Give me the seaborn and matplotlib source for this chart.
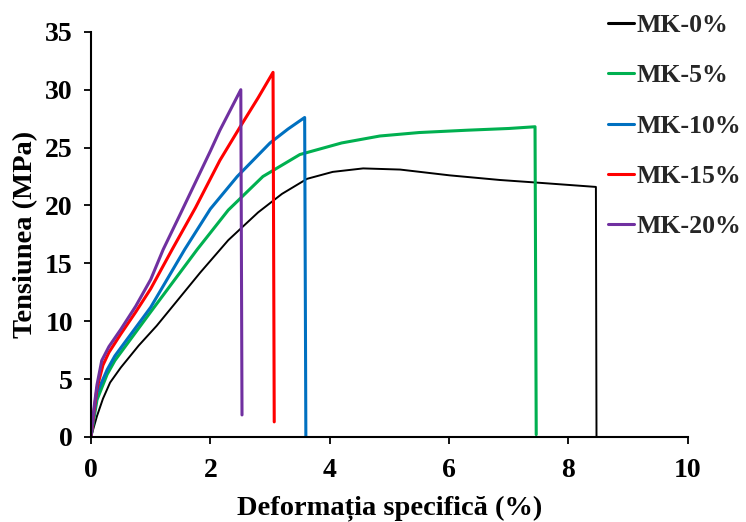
import matplotlib
matplotlib.use("Agg")
import matplotlib.pyplot as plt
import seaborn as sns
import pandas as pd

# Stress-strain curves for mortar with metakaolin (MK) replacement
labels = ["MK-0%", "MK-5%", "MK-10%", "MK-15%", "MK-20%"]
colors = ["#000000", "#00B050", "#0070C0", "#FF0000", "#7030A0"]

mk0_x = [0, 0.1, 0.2, 0.32, 0.5, 0.8, 1.1, 1.37, 1.83, 2.3, 2.8, 3.2, 3.62, 4.05, 4.56, 5.18, 6.01, 6.85, 7.4, 8.46, 8.47]
mk0_y = [0, 1.8, 3.3, 4.7, 6.0, 7.9, 9.6, 11.3, 14.2, 17.0, 19.4, 21.0, 22.3, 22.9, 23.2, 23.1, 22.6, 22.2, 22.0, 21.6, 0]

mk5_x = [0, 0.05, 0.1, 0.27, 0.4, 0.6, 1.0, 1.78, 2.3, 2.88, 3.5, 4.2, 4.84, 5.5, 6.3, 7.0, 7.44, 7.46]
mk5_y = [0, 1.6, 3.2, 5.4, 6.6, 8.0, 10.8, 16.2, 19.6, 22.5, 24.4, 25.4, 26.0, 26.3, 26.5, 26.65, 26.8, 0.2]

mk10_x = [0, 0.05, 0.1, 0.27, 0.4, 0.6, 1.0, 1.57, 2.0, 2.45, 3.0, 3.3, 3.58, 3.6]
mk10_y = [0, 2.0, 3.8, 5.8, 7.0, 8.4, 11.2, 16.2, 19.7, 22.5, 25.4, 26.6, 27.6, 0]

mk15_x = [0, 0.05, 0.1, 0.2, 0.3, 0.5, 0.75, 1.0, 1.36, 1.75, 2.16, 2.5, 2.8, 3.05, 3.07]
mk15_y = [0, 2.2, 4.2, 6.2, 7.3, 8.9, 10.8, 12.8, 16.2, 19.8, 23.9, 26.8, 29.3, 31.5, 1.3]

mk20_x = [0, 0.05, 0.1, 0.18, 0.3, 0.5, 0.75, 1.0, 1.21, 1.5, 2.0, 2.16, 2.51, 2.53]
mk20_y = [0, 2.5, 4.5, 6.6, 7.8, 9.3, 11.3, 13.6, 16.2, 19.3, 24.7, 26.5, 30.0, 1.9]

series_x = [mk0_x, mk5_x, mk10_x, mk15_x, mk20_x]
series_y = [mk0_y, mk5_y, mk10_y, mk15_y, mk20_y]
widths = [1.4, 2.2, 2.2, 2.2, 2.2]

x_ticks = [0, 2, 4, 6, 8, 10]
y_ticks = [0, 5, 10, 15, 20, 25, 30, 35]

sns.set_theme(style="white")
plt.rcParams["font.family"] = ["Liberation Serif", "DejaVu Serif"]
plt.rcParams["font.weight"] = "bold"

fig = plt.figure(figsize=(7.46, 5.22), dpi=100)
ax = fig.add_axes([0.122, 0.163, 0.800, 0.776])

for lab, col, lw, xs, ys in zip(labels, colors, widths, series_x, series_y):
    df = pd.DataFrame({"x": xs, "y": ys})
    sns.lineplot(data=df, x="x", y="y", ax=ax, color=col, linewidth=lw,
                 sort=False, estimator=None, label=lab, legend=False)

ax.set_xlim(0, 10)
ax.set_ylim(0, 35)
ax.set_xticks(x_ticks)
ax.set_yticks(y_ticks)
ax.set_xticklabels([str(t) for t in x_ticks])
ax.set_yticklabels([str(t) for t in y_ticks])

for side in ["top", "right"]:
    ax.spines[side].set_visible(False)
for side in ["left", "bottom"]:
    ax.spines[side].set_color("black")
    ax.spines[side].set_linewidth(1.5)

ax.tick_params(axis="both", direction="out", length=5, width=1.3, color="black",
               labelsize=20, pad=8, bottom=True, left=True, labelcolor="black")
ax.tick_params(axis="x", pad=10)
for t in ax.get_xticklabels() + ax.get_yticklabels():
    t.set_fontweight("bold")

ax.set_xlabel("Deformația specifică (%)", fontsize=20.5, fontweight="bold", labelpad=9, color="black")
ax.set_ylabel("Tensiunea (MPa)", fontsize=20.5, fontweight="bold", labelpad=5, color="black")

handles, labs = ax.get_legend_handles_labels()
leg = fig.legend(handles, labs, loc="upper left", bbox_to_anchor=(0.796, 1.0),
                 frameon=False, prop={"size": 18.5, "weight": "bold"},
                 handlelength=1.0, handletextpad=0.1, labelspacing=1.06,
                 borderaxespad=0.15)
for h in leg.get_lines():
    h.set_linewidth(2.2)

fig.savefig("out.png", dpi=100, facecolor="white")
